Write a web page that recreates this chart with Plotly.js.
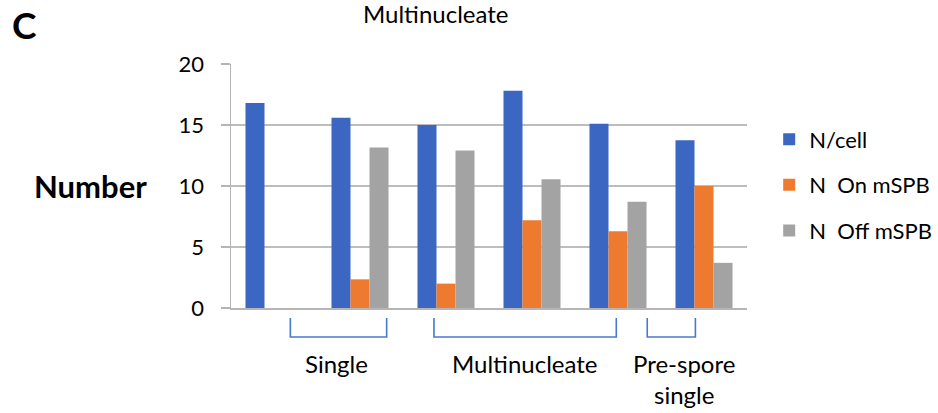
<!DOCTYPE html>
<html>
<head>
<meta charset="utf-8">
<script src="https://cdn.plot.ly/plotly-3.0.1.min.js"></script>
<style>html,body{margin:0;padding:0;background:#fff;}#chart{width:938px;height:413px;}</style>
</head>
<body>
<div id="chart"></div>
<script>
var categories = ["A", "B", "C", "D", "E", "F"];
var nPerCell = [16.8, 15.6, 15.0, 17.8, 15.1, 13.75];
var nOnMSPB = [0, 2.35, 2.0, 7.2, 6.3, 10.0];
var nOffMSPB = [0, 13.15, 12.9, 10.55, 8.7, 3.7];
var seriesNames = ["N/cell", "N\u00a0\u00a0On mSPB", "N\u00a0\u00a0Off mSPB"];
var groupLabels = ["Single", "Multinucleate", "Pre-spore<br>single"];
var yTicks = [0, 5, 10, 15, 20];

var FONT = "Lato, 'Open Sans', sans-serif";
var colors = ["#3b67c3", "#ee7a2f", "#a3a3a3"];
var seriesVals = [nPerCell, nOnMSPB, nOffMSPB];

var traces = seriesVals.map(function (v, i) {
  return {
    type: "bar", x: categories, y: v, name: seriesNames[i],
    marker: {color: colors[i], line: {width: 0}},
    legendgroup: "g" + i, hoverinfo: "none"
  };
});

// bracket spans in category units
var brackets = [[0.19, 1.31], [1.86, 3.98], [4.34, 4.9]];
var labelX = [0.73, 2.91, 4.77];
var labelY = [-0.2295, -0.2295, -0.293];
var shapes = brackets.map(function (b) {
  var y1 = -0.041, y2 = -0.119;
  return {
    type: "path", xref: "x", yref: "paper",
    path: "M " + b[0] + "," + y1 + " L " + b[0] + "," + y2 + " L " + b[1] + "," + y2 + " L " + b[1] + "," + y1,
    line: {color: "#4a78d0", width: 1.6}
  };
});

var annotations = groupLabels.map(function (t, i) {
  return {
    text: t, xref: "x", yref: "paper", x: labelX[i], y: labelY[i],
    yanchor: "middle", xanchor: "center", showarrow: false,
    font: {family: FONT, size: 24, color: "#000"}
  };
});
annotations.push({text: "Multinucleate", xref: "paper", yref: "paper", x: 0.397, y: 1.208,
  xanchor: "center", yanchor: "middle", showarrow: false, font: {family: FONT, size: 24, color: "#000"}});
annotations.push({text: "<b>C</b>", xref: "paper", yref: "paper", x: -0.429, y: 1.16,
  xanchor: "left", yanchor: "middle", showarrow: false, font: {family: FONT, size: 37, color: "#000"}});
annotations.push({text: "<b>Number</b>", xref: "paper", yref: "paper", x: -0.386, y: 0.5,
  xanchor: "left", yanchor: "middle", showarrow: false, font: {family: FONT, size: 31, color: "#000"}});

var layout = {
  width: 938, height: 413,
  margin: {l: 231, r: 191, t: 64, b: 105, autoexpand: false},
  paper_bgcolor: "#fff", plot_bgcolor: "#fff",
  barmode: "group", bargap: 0.337, bargroupgap: 0,
  showlegend: true,
  legend: {x: 1.043, y: 0.777, xanchor: "left", yanchor: "top", tracegroupgap: 14,
    font: {family: FONT, size: 22, color: "#000"}, itemwidth: 30},
  xaxis: {type: "category", showticklabels: false, ticks: "", showgrid: false,
    showline: true, linecolor: "#b5b5b5", linewidth: 1.5, fixedrange: true},
  yaxis: {range: [0, 20], tickvals: yTicks, ticktext: yTicks.map(String),
    ticks: "outside", ticklen: 9, tickcolor: "#b5b5b5", tickwidth: 1.3,
    ticklabelstandoff: 12,
    showgrid: true, gridcolor: "#bdbdbd", gridwidth: 1.3, zeroline: false,
    showline: true, linecolor: "#b5b5b5", linewidth: 1.5,
    tickfont: {family: FONT, size: 22, color: "#000"}},
  shapes: shapes,
  annotations: annotations
};

Plotly.newPlot("chart", traces, layout, {displayModeBar: false, staticPlot: true});
</script>
</body>
</html>
